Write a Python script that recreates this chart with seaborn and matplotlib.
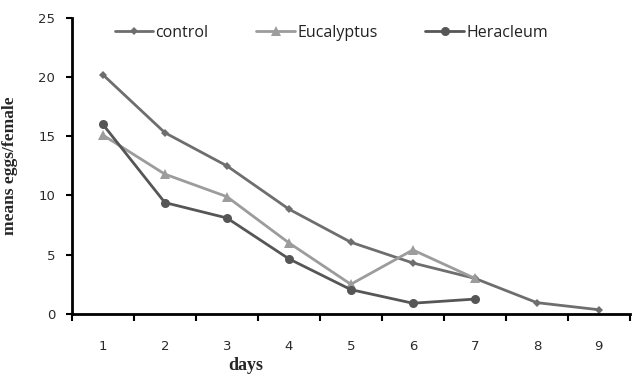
import pandas as pd
import seaborn as sns
import matplotlib.pyplot as plt

sns.set_theme(style="white")
plt.rcParams["font.family"] = ["DejaVu Sans"]

# values
days_control = [1, 2, 3, 4, 5, 6, 7, 8, 9]
control = [20.2, 15.3, 12.5, 8.85, 6.05, 4.3, 3.0, 0.95, 0.35]
days_euc = [1, 2, 3, 4, 5, 6, 7]
eucalyptus = [15.1, 11.8, 9.9, 6.0, 2.5, 5.4, 3.0]
days_her = [1, 2, 3, 4, 5, 6, 7]
heracleum = [16.0, 9.4, 8.1, 4.65, 2.05, 0.9, 1.25]

df = pd.concat([
    pd.DataFrame({"day": days_control, "eggs": control, "group": "control"}),
    pd.DataFrame({"day": days_euc, "eggs": eucalyptus, "group": "Eucalyptus"}),
    pd.DataFrame({"day": days_her, "eggs": heracleum, "group": "Heracleum"}),
], ignore_index=True)

palette = {"control": "#6e6e6e", "Eucalyptus": "#9c9c9c", "Heracleum": "#565656"}
markers = {"control": "D", "Eucalyptus": "^", "Heracleum": "o"}
sizes = {"control": 4.5, "Eucalyptus": 6.5, "Heracleum": 6.5}

fig = plt.figure(figsize=(6.42, 3.8), dpi=100)
ax = fig.add_axes([0.112, 0.174, 0.869, 0.779])

for g in ["control", "Eucalyptus", "Heracleum"]:
    sns.lineplot(data=df[df["group"] == g], x="day", y="eggs", ax=ax,
                 color=palette[g], marker=markers[g], markersize=sizes[g],
                 markeredgewidth=0, linewidth=2, label=g)

ax.set_xlim(0.5, 9.5)
ax.set_ylim(0, 25)
ax.set_yticks([0, 5, 10, 15, 20, 25])
ax.set_xticks(range(1, 10))
ax.set_xticks([x + 0.5 for x in range(0, 10)], minor=True)
ax.tick_params(axis="x", which="major", length=0, pad=19, labelsize=9.5, colors="#2a2a2a")
ax.tick_params(axis="x", which="minor", bottom=True, direction="out", length=5, width=1.5, color="black")
ax.tick_params(axis="y", left=True, direction="out", length=4, width=1.5, color="black",
               labelsize=9.5, labelcolor="#2a2a2a", pad=8)

for s in ["top", "right"]:
    ax.spines[s].set_visible(False)
for s in ["left", "bottom"]:
    ax.spines[s].set_color("black")
    ax.spines[s].set_linewidth(2)

ax.set_ylabel("means eggs/female", family="Liberation Serif", fontweight="bold", fontsize=12.5)
ax.set_xlabel("days", family="Liberation Serif", fontweight="bold", fontsize=13)
ax.yaxis.set_label_coords(-0.097, 0.5)
ax.xaxis.set_label_coords(0.312, -0.145)

leg = ax.legend(loc="upper center", bbox_to_anchor=(0.465, 1.025), ncol=3, frameon=False,
                prop={"family": "Open Sans", "size": 11.5},
                handlelength=2.4, handletextpad=0.15, columnspacing=3.0)
for t in leg.get_texts():
    t.set_color("#222222")

fig.savefig("out.png", dpi=100)
